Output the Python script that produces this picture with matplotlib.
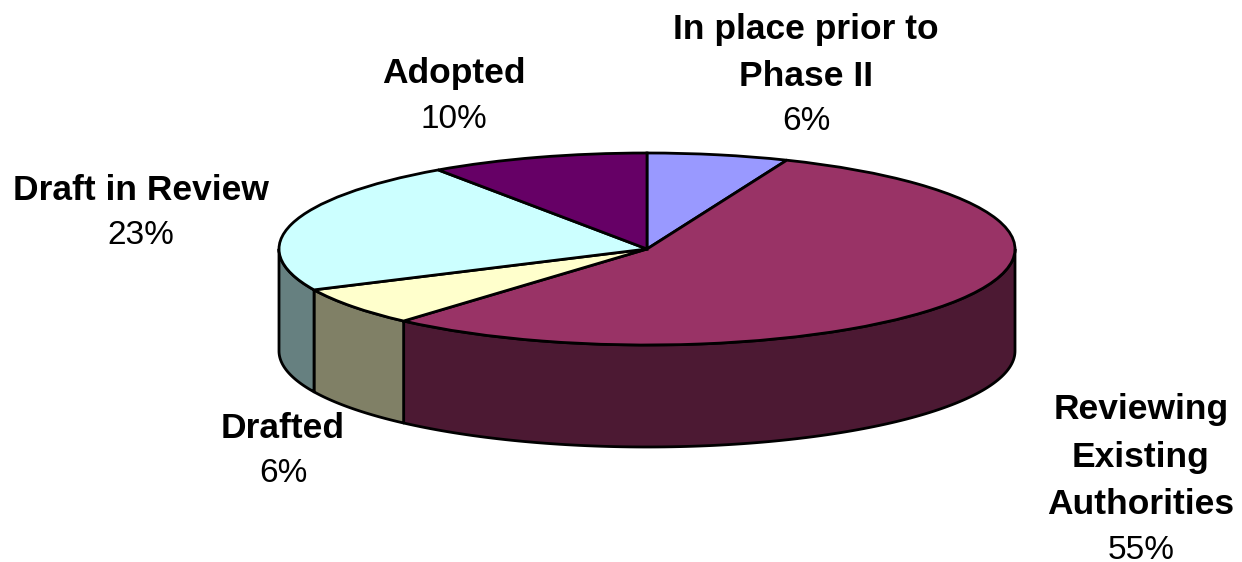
import matplotlib
matplotlib.use('Agg')
import matplotlib.pyplot as plt
import numpy as np

labels = ['In place prior to\nPhase II', 'Reviewing\nExisting\nAuthorities', 'Drafted', 'Draft in Review', 'Adopted']
percents = ['6%', '55%', '6%', '23%', '10%']
# slice sizes as measured on the picture (the printed labels are rounded)
shares = [6.2, 55.3, 6.5, 22.4, 9.6]
colors = ['#9999FF', '#993366', '#FFFFCC', '#CCFFFF', '#660066']
side_colors = ['#4C4C80', '#4C1933', '#808066', '#668080', '#330033']

# pixel layout of the pie
cx, cy = 647, 249
rx, ry = 368, 96
depth = 102 / ry
W, H = 1242, 562

plt.rcParams['font.family'] = ['Liberation Sans', 'DejaVu Sans']

fig = plt.figure(figsize=(W / 100, H / 100), dpi=100)
ax = fig.add_axes([0, 0, 1, 1])

wedges, _ = ax.pie(shares, colors=colors, startangle=90, counterclock=False, radius=1, center=(0, 0),
                   wedgeprops=dict(edgecolor='black', linewidth=2.0), frame=False)
for w in wedges:
    w.set_zorder(5)
ax.set_aspect('auto')
ax.set_xlim(-cx / rx, (W - cx) / rx)
ax.set_ylim((cy - H) / ry, cy / ry)
ax.axis('off')

# side walls of the slices on the front half
edges = 90 - np.cumsum([0] + shares) * 3.6
for i in range(len(shares)):
    lo, hi = max(edges[i + 1], -180), min(edges[i], 0)
    if lo >= hi:
        continue
    t = np.radians(np.linspace(lo, hi, 120))
    xs = np.cos(t)
    ys = np.sin(t)
    ax.fill(np.r_[xs, xs[::-1]], np.r_[ys, ys[::-1] - depth], facecolor=side_colors[i],
            edgecolor='black', linewidth=2.0, zorder=3, joinstyle='round')

# label centres in pixels: x, y of the first line
label_xy = [(806, 29), (1141, 410), (283, 428), (141, 190), (454, 74)]
for name, pct, (px, py) in zip(labels, percents, label_xy):
    lines = name.split('\n')
    for j, line in enumerate(lines):
        ax.text((px - cx) / rx, (cy - (py + j * 47.5)) / ry, line, ha='center', va='center',
                fontsize=25.5, fontweight='bold', color='black')
    ax.text((px - cx) / rx, (cy - (py - 2 + len(lines) * 47.5)) / ry, pct, ha='center', va='center',
            fontsize=24, color='black')

fig.savefig('out.png', dpi=100)
